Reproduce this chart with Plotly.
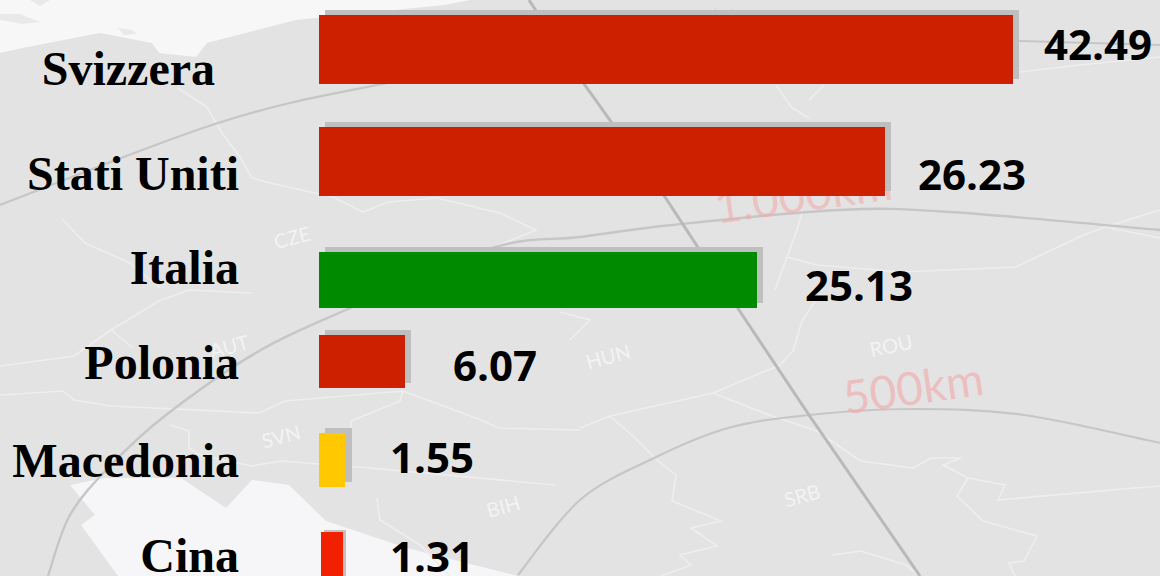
import plotly.graph_objects as go

W, H = 1160, 576

# Chart data (the printed values are not proportional to the drawn bars in the reference)
countries = ["Svizzera", "Stati Uniti", "Italia", "Polonia", "Macedonia", "Cina"]
values = [42.49, 26.23, 25.13, 6.07, 1.55, 1.31]
drawn_lengths = [42.49, 34.66, 26.82, 5.27, 1.62, 1.35]

# Styling and layout, separate from the data
bar_colors = ["#cd2000", "#cd2000", "#008a00", "#cd2000", "#ffc800", "#f02000"]
bar_centers = [49.5, 161.5, 280, 361.5, 460, 561]
bar_heights = [69, 69, 56, 53, 54, 58]
bar_bases = [0, 0, 0, 0, 0, 0.12]
shadow_colors = ["#bfbfbf", "#bfbfbf", "#bfbfbf", "#bfbfbf", "#bfbfbf", "rgba(70,70,70,0.3)"]
shadow_dx = [0.37, 0.37, 0.37, 0.37, 0.37, 0.2]
shadow_dy = [-5.5, -5.5, -5.5, -5.5, -5.5, -2]
tick_rows = [68.5, 173.5, 267.5, 362.5, 460.5, 555.5]
tick_pad = ["&nbsp;&nbsp;", "", "", "", "", ""]
value_left_px = [1042, 915.5, 803, 451, 388, 388]
value_mid_px = [43, 173, 284.5, 364, 456, 555]

PX_PER_UNIT = 16.33
BAR_LEFT = 319
PLOT_LEFT = 240


def px(x):
    return x / W


def py(y):
    return 1 - y / H


def smooth(points):
    pts = [(px(x), py(y)) for x, y in points]
    d = f"M{pts[0][0]:.5f},{pts[0][1]:.5f}"
    for i in range(len(pts) - 1):
        p0 = pts[max(i - 1, 0)]
        p1 = pts[i]
        p2 = pts[i + 1]
        p3 = pts[min(i + 2, len(pts) - 1)]
        c1 = (p1[0] + (p2[0] - p0[0]) / 6, p1[1] + (p2[1] - p0[1]) / 6)
        c2 = (p2[0] - (p3[0] - p1[0]) / 6, p2[1] - (p3[1] - p1[1]) / 6)
        d += f" C{c1[0]:.5f},{c1[1]:.5f} {c2[0]:.5f},{c2[1]:.5f} {p2[0]:.5f},{p2[1]:.5f}"
    return d


def poly(points, close=False):
    d = "M" + " L".join(f"{px(x):.5f},{py(y):.5f}" for x, y in points)
    return d + (" Z" if close else "")


shapes = []


def line_shape(path, color, width):
    shapes.append(dict(type="path", path=path, xref="paper", yref="paper", layer="below",
                       line=dict(color=color, width=width)))


def fill_shape(points, color):
    shapes.append(dict(type="path", path=poly(points, True), xref="paper", yref="paper", layer="below",
                       fillcolor=color, line=dict(width=0)))


def map_label(text, x, y, size, color, angle):
    shapes.append(dict(type="rect", xref="paper", yref="paper", layer="below",
                       x0=px(x - 130), x1=px(x + 130), y0=py(y + 40), y1=py(y - 40),
                       fillcolor="rgba(0,0,0,0)", line=dict(width=0),
                       label=dict(text=text, textangle=angle, textposition="middle center",
                                  font=dict(family="Lato", size=size, color=color))))


# Map-like backdrop
fill_shape([(0, 0), (470, 0), (444, 5), (296, 20), (207, 43), (196, 57), (159, 53), (152, 43),
            (100, 33), (22, 48), (0, 53)], "#f7f7f7")
fill_shape([(0, 14), (20, 14), (40, 22), (22, 24), (0, 20)], "#e9e9e9")
fill_shape([(118, 28), (132, 30), (137, 34), (124, 35)], "#e9e9e9")
fill_shape([(30, 0), (50, 0), (40, 6)], "#e9e9e9")
fill_shape([(70, 485), (104, 478), (181, 478), (226, 508), (252, 480), (289, 485), (326, 521),
            (407, 548), (518, 576), (118, 576), (81, 525), (95, 515)], "#f6f6f8")

border = "#eeeeee"
borders = [
    [(178, 88), (207, 107), (222, 133), (240, 157), (252, 178), (270, 183), (333, 197), (363, 212),
     (388, 202), (437, 198), (500, 213), (536, 230), (499, 245)],
    [(63, 220), (85, 243), (130, 263), (160, 288)],
    [(0, 366), (74, 356), (111, 330), (159, 301), (189, 290), (252, 293)],
    [(111, 330), (133, 348)],
    [(0, 395), (63, 391), (74, 400), (111, 406), (259, 413), (285, 401), (403, 391), (481, 420),
     (499, 428), (580, 430)],
    [(403, 391), (400, 401), (351, 421), (351, 435)],
    [(170, 425), (189, 431), (189, 448), (200, 455), (252, 466), (281, 461), (370, 468), (555, 485)],
    [(377, 498), (380, 520), (420, 545), (450, 576)],
    [(560, 312), (590, 320), (570, 340)],
    [(817, 298), (802, 321), (793, 351), (780, 365), (713, 393), (610, 416), (580, 428)],
    [(713, 393), (769, 415), (817, 431), (846, 451), (861, 461), (913, 468), (931, 458), (961, 458),
     (943, 465), (968, 478), (1005, 485), (998, 500), (1135, 488), (1160, 486)],
    [(968, 478), (957, 496), (983, 521), (1037, 536), (1024, 561), (1009, 563), (1015, 576)],
    [(610, 416), (635, 438), (658, 461), (676, 475), (672, 501), (721, 521), (691, 528), (717, 546),
     (680, 555), (691, 565), (661, 576)],
    [(832, 555), (861, 551), (906, 565), (920, 576)],
    [(776, 85), (791, 107), (809, 118)],
    [(824, 85), (809, 100)],
    [(802, 213), (798, 227), (787, 257), (817, 265), (900, 272), (1016, 267), (1079, 237), (1105, 227),
     (1160, 238)],
    [(1105, 227), (1160, 210)],
    [(1020, 72), (1079, 65), (1160, 57)],
    [(787, 257), (775, 290)],
]
for b in borders:
    line_shape(poly(b), border, 1.6)

arc_color = "#c6c6c6"
line_shape(smooth([(0, 205), (218, 123), (377, 85), (560, 55), (800, 36), (1020, 41), (1160, 45)]),
           arc_color, 2.2)
line_shape(smooth([(48, 576), (70, 515), (111, 465), (166, 415), (259, 351), (348, 309), (492, 248),
                   (580, 237), (672, 225), (839, 210), (950, 212), (1160, 230)]), arc_color, 2.4)
line_shape(smooth([(518, 575), (580, 500), (654, 458), (728, 428), (809, 415), (913, 409), (1024, 415),
                   (1160, 443)]), arc_color, 2.2)
line_shape(poly([(529, 0), (584, 84), (665, 197), (739, 310), (809, 415), (920, 576)]), "#b9b9b9", 3)

map_label("500km", 913, 386, 46, "rgba(240,175,175,0.7)", -8)
map_label("1.000km", 803, 193, 46, "rgba(240,175,175,0.65)", -8)
map_label("km", 725, 12, 16, "rgba(240,175,175,0.5)", -8)
for text, x, y, angle in [("HUN", 608, 356, -15), ("ROU", 891, 345, -12), ("SRB", 802, 495, -15),
                          ("SVN", 281, 436, -15), ("BIH", 503, 506, -15), ("CZE", 292, 237, -15),
                          ("AUT", 229, 346, -15)]:
    map_label(text, x, y, 20, "rgba(255,255,255,0.6)", angle)

x_range = [-(BAR_LEFT - PLOT_LEFT) / PX_PER_UNIT, (W - BAR_LEFT) / PX_PER_UNIT]

fig = go.Figure()
fig.add_bar(
    orientation="h", x=drawn_lengths, y=[c + d for c, d in zip(bar_centers, shadow_dy)],
    base=[b + d for b, d in zip(bar_bases, shadow_dx)], width=bar_heights,
    marker=dict(color=shadow_colors, line=dict(width=0)), hoverinfo="skip", showlegend=False,
)
fig.add_bar(
    orientation="h", x=drawn_lengths, y=bar_centers, base=bar_bases, width=bar_heights,
    marker=dict(color=bar_colors, line=dict(width=0)), showlegend=False,
    customdata=values, hovertemplate="%{customdata}<extra></extra>",
)

annotations = [
    dict(text=f"{v:.2f}", x=px(x), y=py(y), xref="paper", yref="paper", xanchor="left", yanchor="middle",
         showarrow=False, font=dict(family="Open Sans", size=42, color="#000000", weight=700))
    for v, x, y in zip(values, value_left_px, value_mid_px)
]

fig.update_layout(
    width=W, height=H, margin=dict(l=0, r=0, t=0, b=0, pad=0, autoexpand=False), autosize=False,
    paper_bgcolor="#e3e3e3", plot_bgcolor="rgba(0,0,0,0)",
    barmode="overlay", bargap=0, shapes=shapes, annotations=annotations,
    xaxis=dict(domain=[PLOT_LEFT / W, 1], range=x_range, visible=False, fixedrange=True, automargin=False),
    yaxis=dict(domain=[0, 1], range=[H, 0], tickmode="array", tickvals=tick_rows,
               ticktext=[c + p for c, p in zip(countries, tick_pad)], ticks="", showgrid=False,
               zeroline=False, showline=False, fixedrange=True, ticklabeloverflow="allow",
               automargin=False,
               tickfont=dict(family="Liberation Serif", size=48, color="#000000", weight=700)),
)

fig.write_html("out.html", config={"displayModeBar": False},
               post_script="document.body.style.margin='0';")
